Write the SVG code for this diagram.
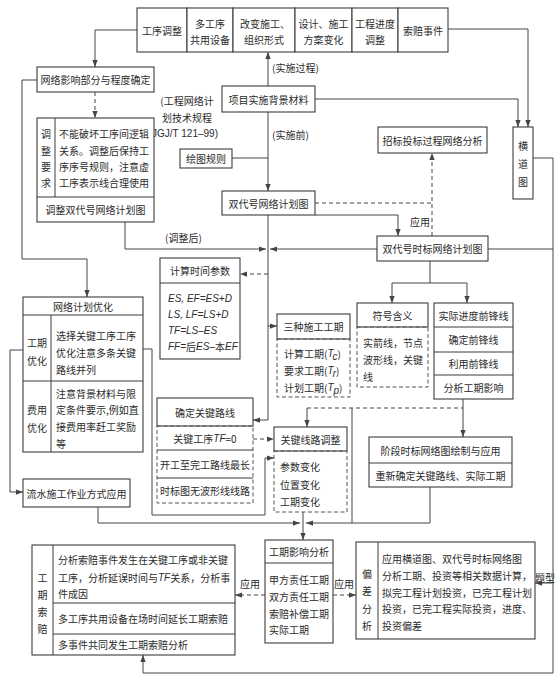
<svg xmlns="http://www.w3.org/2000/svg" width="560" height="682" viewBox="0 0 560 682">
<defs>
<style>
.box{fill:#fff;stroke:#3c3c3c;stroke-width:1.1}
.dbox{fill:none;stroke:#555;stroke-width:1;stroke-dasharray:4 2.5}
.dv{fill:none;stroke:#3c3c3c;stroke-width:1}
.ln{fill:none;stroke:#444;stroke-width:1}
.dl{stroke-dasharray:4 3}
text{font-family:"Noto Sans CJK SC","Noto Sans CJK TC",sans-serif;font-size:10px;fill:#2b2b2b;dominant-baseline:central}
.c{text-anchor:middle}
.f{font-family:"Liberation Sans","Noto Sans CJK SC",sans-serif;font-style:italic;font-size:10px}
.n{font-family:"Noto Sans CJK SC",sans-serif;font-style:normal}
</style>
<marker id="ah" viewBox="0 0 8 8" refX="8" refY="4" markerWidth="7" markerHeight="7" orient="auto" markerUnits="userSpaceOnUse"><path d="M0,1 L8,4 L0,7 z" fill="#444"/></marker>
</defs>
<rect width="560" height="682" fill="#fff"/>

<g id="connectors">
<path class="ln" d="M137,30 H95 V67" marker-end="url(#ah)"/>
<path class="ln dl" d="M95,92 V118" marker-end="url(#ah)"/>
<path class="ln" d="M37,80 H22 V259 H87 V297" marker-end="url(#ah)"/>
<path class="ln" d="M268,86 V52" marker-end="url(#ah)"/>
<path class="ln" d="M315,99 H518 V127" marker-end="url(#ah)"/>
<path class="ln" d="M448,29 H528 V127" marker-end="url(#ah)"/>
<path class="ln" d="M268,112 V191" marker-end="url(#ah)"/>
<path class="ln" d="M232,158 H268"/>
<path class="ln" d="M268,215 V420 H253" marker-end="url(#ah)"/>
<path class="ln dl" d="M268,274 H240" marker-end="url(#ah)"/>
<path class="ln" d="M268,326 H277" marker-end="url(#ah)"/>
<path class="ln" d="M125,222 V249 H266" marker-end="url(#ah)"/>
<path class="ln" d="M377,249 H270" marker-end="url(#ah)"/>
<path class="ln dl" d="M315,203 H432"/>
<path class="ln dl" d="M432,236 V153" marker-end="url(#ah)"/>
<path class="ln" d="M315,215 H398 V236" marker-end="url(#ah)"/>
<path class="ln" d="M533,158 H553 V673 H143 V655" marker-end="url(#ah)"/>
<path class="ln" d="M488,249 H553"/>
<path class="ln" d="M553,583 H535" marker-end="url(#ah)"/>
<path class="ln" d="M430,261 V283"/>
<path class="ln" d="M392,283 H467"/>
<path class="ln" d="M392,283 V303" marker-end="url(#ah)"/>
<path class="ln" d="M467,283 V303" marker-end="url(#ah)"/>
<path class="ln" d="M23,350 H10 V492 H23" marker-end="url(#ah)"/>
<path class="ln" d="M143,349 H152 V515 H265 V458 H274" marker-end="url(#ah)"/>
<path class="ln dl" d="M253,439 H274" marker-end="url(#ah)"/>
<path class="ln" d="M98,507 V523 H300" marker-end="url(#ah)"/>
<path class="ln" d="M430,487 V523 H306" marker-end="url(#ah)"/>
<path class="ln" d="M352,408 V523"/>
<path class="ln" d="M303,512 V540" marker-end="url(#ah)"/>
<path class="ln" d="M463,399 V408"/>
<path class="ln dl" d="M307,408 H463"/>
<path class="ln" d="M307,408 V427" marker-end="url(#ah)"/>
<path class="ln" d="M463,408 V437" marker-end="url(#ah)"/>
<path class="ln dl" d="M265,595 H235" marker-end="url(#ah)"/>
<path class="ln dl" d="M333,595 H356" marker-end="url(#ah)"/>
</g>

<g id="labels">
<text x="272" y="67">(实施过程)</text>
<text x="272" y="134">(实施前)</text>
<text class="c" x="187" y="100">(工程网络计</text>
<text class="c" x="187" y="117">划技术规程</text>
<text class="c" x="185" y="133" style="font-family:'Liberation Sans',sans-serif">JGJ/T 121–99)</text>
<text x="165" y="237">(调整后)</text>
<text class="c" x="420" y="221">应用</text>
<text class="c" x="250" y="583">应用</text>
<text class="c" x="344" y="583">应用</text>
<text class="c" x="545" y="577">题型</text>
</g>

<g id="n-gxtz"><rect class="box" x="137" y="8" width="50" height="44"/><text class="c" x="162" y="30">工序调整</text></g>
<g id="n-dgx"><rect class="box" x="187" y="8" width="46" height="44"/><text class="c" x="210" y="23">多工序</text><text class="c" x="210" y="39">共用设备</text></g>
<g id="n-gbsg"><rect class="box" x="233" y="8" width="62" height="44"/><text class="c" x="265" y="23">改变施工、</text><text class="c" x="264" y="39">组织形式</text></g>
<g id="n-sjsg"><rect class="box" x="295" y="8" width="57" height="44"/><text class="c" x="323.5" y="23">设计、施工</text><text class="c" x="323.5" y="39">方案变化</text></g>
<g id="n-gcjd"><rect class="box" x="352" y="8" width="46" height="44"/><text class="c" x="375" y="23">工程进度</text><text class="c" x="375" y="39">调整</text></g>
<g id="n-spsj"><rect class="box" x="398" y="8" width="50" height="44"/><text class="c" x="423" y="30">索赔事件</text></g>

<g id="n-wlyx"><rect class="box" x="37" y="67" width="117" height="25"/><text class="c" x="95.5" y="79.5">网络影响部分与程度确定</text></g>

<g id="n-tzyq"><rect class="box" x="37" y="118" width="117" height="104"/>
<path class="dv" d="M55,118 V197 M37,197 H154"/>
<text class="c" x="46" y="133">调</text><text class="c" x="46" y="150">整</text><text class="c" x="46" y="166">要</text><text class="c" x="46" y="182">求</text>
<text x="59" y="133">不能破坏工序间逻辑</text>
<text x="59" y="150">关系。调整后保持工</text>
<text x="59" y="166">序序号规则，注意虚</text>
<text x="59" y="182">工序表示线合理使用</text>
<text class="c" x="95.5" y="209.5">调整双代号网络计划图</text>
</g>

<g id="n-xmss"><rect class="box" x="222" y="86" width="93" height="26"/><text class="c" x="268.5" y="99">项目实施背景材料</text></g>
<g id="n-htgz"><rect class="box" x="180" y="149" width="52" height="19"/><text class="c" x="206" y="158.5">绘图规则</text></g>
<g id="n-sdh"><rect class="box" x="222" y="191" width="93" height="24"/><text class="c" x="268.5" y="203">双代号网络计划图</text></g>
<g id="n-zbtb"><rect class="box" x="378" y="127" width="109" height="26"/><text class="c" x="432.5" y="140">招标投标过程网络分析</text></g>
<g id="n-hdt"><rect class="box" x="513" y="127" width="20" height="72"/><text class="c" x="523" y="145">横</text><text class="c" x="523" y="163">道</text><text class="c" x="523" y="181">图</text></g>
<g id="n-sdhsb"><rect class="box" x="377" y="236" width="111" height="25"/><text class="c" x="432.5" y="248.5">双代号时标网络计划图</text></g>

<g id="n-jssj"><rect class="box" x="160" y="258" width="80" height="101"/>
<path class="dv" d="M160,283 H240"/>
<text class="c" x="200" y="270.5">计算时间参数</text>
<text class="f" x="168" y="298">ES, EF=ES+D</text>
<text class="f" x="168" y="314">LS, LF=LS+D</text>
<text class="f" x="168" y="330">TF=LS–ES</text>
<text class="f" x="168" y="346">FF=<tspan class="n">后</tspan>ES–<tspan class="n">本</tspan>EF</text>
</g>

<g id="n-szsg"><rect class="box" x="277" y="314" width="73" height="25"/><text class="c" x="313.5" y="326.5">三种施工工期</text>
<rect class="dbox" x="277" y="339" width="73" height="58"/>
<text x="284" y="353">计算工期(<tspan class="f">T</tspan><tspan class="f" font-size="7" dy="3">c</tspan><tspan dy="-3">)</tspan></text>
<text x="284" y="370">要求工期(<tspan class="f">T</tspan><tspan class="f" font-size="7" dy="3">r</tspan><tspan dy="-3">)</tspan></text>
<text x="284" y="387">计划工期(<tspan class="f">T</tspan><tspan class="f" font-size="7" dy="3">p</tspan><tspan dy="-3">)</tspan></text>
</g>

<g id="n-fhhy"><rect class="box" x="357" y="303" width="71" height="24"/><text class="c" x="392.5" y="315">符号含义</text>
<rect class="dbox" x="357" y="327" width="71" height="60"/>
<text x="363" y="342">实箭线，节点</text>
<text x="363" y="359">波形线，关键</text>
<text x="363" y="376">线</text>
</g>

<g id="n-sjjd"><rect class="box" x="434" y="303" width="79" height="96"/>
<path class="dv" d="M434,327 H513 M434,352 H513 M434,375 H513"/>
<text class="c" x="473.5" y="315">实际进度前锋线</text>
<text class="c" x="473.5" y="339.5">确定前锋线</text>
<text class="c" x="473.5" y="363.5">利用前锋线</text>
<text class="c" x="473.5" y="387">分析工期影响</text>
</g>

<g id="n-wljh"><rect class="box" x="23" y="297" width="120" height="155"/>
<path class="dv" d="M23,315 H143 M51,315 V452 M23,381 H143"/>
<text class="c" x="83" y="306">网络计划优化</text>
<text class="c" x="37" y="342">工期</text><text class="c" x="37" y="360">优化</text>
<text class="c" x="37" y="409">费用</text><text class="c" x="37" y="427">优化</text>
<text x="56" y="335">选择关键工序工序</text>
<text x="56" y="352">优化注意多条关键</text>
<text x="56" y="369">路线并列</text>
<text x="56" y="393">注意背景材料与限</text>
<text x="56" y="409">定条件要示,例如直</text>
<text x="56" y="426">接费用率赶工奖励</text>
<text x="56" y="443">等</text>
</g>

<g id="n-lssg"><rect class="box" x="23" y="479" width="107" height="28"/><text class="c" x="76.5" y="493">流水施工作业方式应用</text></g>

<g id="n-qdgj"><rect class="box" x="157" y="398" width="96" height="28"/><text class="c" x="205" y="412">确定关键路线</text>
<rect class="dbox" x="157" y="426" width="96" height="77"/>
<path class="dv" d="M157,450 H253 M157,478 H253" stroke="#666"/>
<text class="c" x="205" y="438">关键工序<tspan class="f">TF</tspan>=0</text>
<text class="c" x="205" y="464">开工至完工路线最长</text>
<text class="c" x="205" y="490.5">时标图无波形线线路</text>
</g>

<g id="n-gjxl"><rect class="box" x="274" y="427" width="73" height="24"/><text class="c" x="310.5" y="439">关键线路调整</text>
<rect class="dbox" x="274" y="451" width="73" height="61"/>
<text x="280" y="466">参数变化</text>
<text x="280" y="484">位置变化</text>
<text x="280" y="501">工期变化</text>
</g>

<g id="n-jdsb"><rect class="box" x="369" y="437" width="143" height="50"/>
<path class="dv" d="M369,463 H512"/>
<text class="c" x="440.5" y="450">阶段时标网络图绘制与应用</text>
<text class="c" x="440.5" y="475">重新确定关键路线、实际工期</text>
</g>

<g id="n-gqyx"><rect class="box" x="265" y="540" width="68" height="103"/>
<path class="dv" d="M265,563 H333"/>
<text class="c" x="299" y="551.5">工期影响分析</text>
<text x="269" y="579">甲方责任工期</text>
<text x="269" y="596">双方责任工期</text>
<text x="269" y="613">索赔补偿工期</text>
<text x="269" y="629">实际工期</text>
</g>

<g id="n-gqsp"><rect class="box" x="32" y="545" width="203" height="110"/>
<path class="dv" d="M53,545 V655 M53,603 H235 M53,634 H235"/>
<text class="c" x="42.5" y="577">工</text><text class="c" x="42.5" y="594">期</text><text class="c" x="42.5" y="611">索</text><text class="c" x="42.5" y="628">赔</text>
<text x="58" y="559">分析索赔事件发生在关键工序或非关键</text>
<text x="58" y="577">工序，分析延误时间与<tspan class="f">TF</tspan>关系，分析事</text>
<text x="58" y="593">件成因</text>
<text x="58" y="618.5">多工序共用设备在场时间延长工期索赔</text>
<text x="58" y="644.5">多事件共同发生工期索赔分析</text>
</g>

<g id="n-pcfx"><rect class="box" x="356" y="542" width="179" height="97"/>
<path class="dv" d="M378,542 V639"/>
<text class="c" x="367" y="573">偏</text><text class="c" x="367" y="590">差</text><text class="c" x="367" y="608">分</text><text class="c" x="367" y="625">析</text>
<text x="382" y="558">应用横道图、双代号时标网络图</text>
<text x="382" y="575">分析工期、投资等相关数据计算，</text>
<text x="382" y="592">拟完工程计划投资，已完工程计划</text>
<text x="382" y="608">投资，已完工程实际投资，进度、</text>
<text x="382" y="625">投资偏差</text>
</g>
</svg>
